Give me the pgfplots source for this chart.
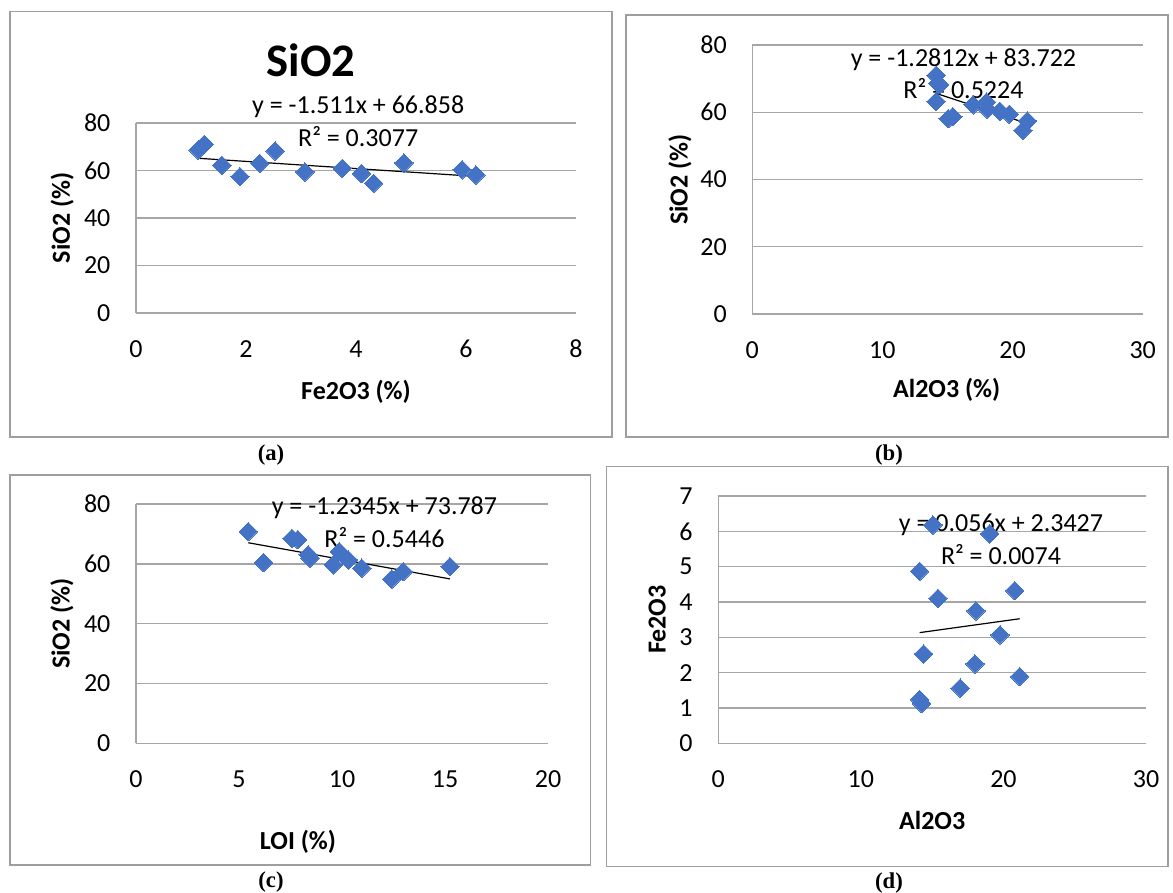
\documentclass[border=0pt]{standalone}
\usepackage{fontspec}
\setmainfont{Carlito}
\newfontfamily\timesfont{Liberation Serif}
\usepackage{pgfplots}
\usepackage{pgfplotstable}
\pgfplotsset{compat=1.18}

\definecolor{xlblue}{HTML}{4472C4}
\definecolor{xlgrid}{HTML}{A6A6A6}
\definecolor{xlbox}{HTML}{9E9E9E}

% one row per sample: Fe2O3, Al2O3, SiO2 (%)
\pgfplotstableread{
fe   al    si
1.13 14.26 68.6
1.24 14.12 71.0
1.56 16.97 62.2
1.89 21.14 57.4
2.25 18.00 63.0
2.53 14.40 68.2
3.07 19.76 59.4
3.75 18.07 60.9
4.10 15.41 58.7
4.32 20.79 54.6
4.87 14.12 63.2
5.93 19.03 60.3
6.18 15.05 58.1
}\maintab

% panel (c): LOI vs SiO2
\pgfplotstableread{
loi   si
5.45  70.8
6.19  60.4
7.57  68.5
7.85  68.1
8.36  63.0
8.45  61.9
9.58  59.7
9.87  64.1
10.31 61.3
10.96 58.6
12.41 54.9
12.97 57.4
15.24 59.1
}\loitab

\pgfplotsset{
  xlchart/.style={
    scale only axis, clip=false,
    axis lines*=left,
    axis line style={xlgrid, line width=1pt, -},
    ymajorgrids, grid style={xlgrid, line width=1pt},
    major tick length=0pt,
    xmin=0, ymin=0,
    /pgf/number format/assume math mode=true,
    tick label style={font=\fontsize{19.5}{23}\selectfont, inner sep=0pt},
    y tick label style={anchor=east, xshift=-19pt},
    x tick label style={anchor=center, yshift=-27pt},
    label style={font=\bfseries\fontsize{19.5}{23}\selectfont},
  },
  xlpts/.style={only marks, color=xlblue, mark=square*, mark size=4.9pt,
    mark options={rotate=45, draw=xlblue, fill=xlblue, line width=0pt}},
  trend/.style={black, line width=0.9pt, mark=none},
}
\newcommand{\eqfont}{\fontsize{19.5}{24.5}\selectfont}

\begin{document}
\begin{tikzpicture}
\useasboundingbox (0,0) rectangle (879.75pt,-669pt);

% chart area frames
\draw[xlbox, line width=1pt] (7.5pt,-8.8pt) rectangle (459pt,-327.75pt);
\draw[xlbox, line width=1pt] (469.5pt,-11.25pt) rectangle (876pt,-327.75pt);
\draw[xlbox, line width=1pt] (7.5pt,-356.25pt) rectangle (443pt,-648.75pt);
\draw[xlbox, line width=1pt] (455pt,-350pt) rectangle (876pt,-650pt);

% (a)
\begin{axis}[xlchart,
  at={(102pt,-234.75pt)}, anchor=south west,
  width=330pt, height=142.5pt,
  xmax=8, ymax=80, xtick={0,2,...,8}, ytick={0,20,...,80},
  title={SiO2},
  title style={at={(axis description cs:0.398,1.29)}, anchor=center,
    font=\bfseries\fontsize{35}{40}\selectfont},
  xlabel={Fe2O3 (\%)}, ylabel={SiO2 (\%)},
  xlabel style={at={(axis description cs:0.5,-0.414)}, anchor=center},
  ylabel style={at={(axis description cs:-0.168,0.5)}, anchor=center},
]
\addplot[xlpts] table[x=fe, y=si] {\maintab};
\addplot[trend] coordinates {(1.13,65.151) (6.18,57.520)};
\node[align=center, font=\eqfont] at (axis description cs:0.505,1.009)
  {y = -1.511x + 66.858\\R² = 0.3077};
\end{axis}

% (b)
\begin{axis}[xlchart,
  at={(564.2pt,-235.5pt)}, anchor=south west,
  width=292.8pt, height=201.75pt,
  xmax=30, ymax=80, xtick={0,10,20,30}, ytick={0,20,...,80},
  xlabel={Al2O3 (\%)}, ylabel={SiO2 (\%)},
  xlabel style={at={(axis description cs:0.498,-0.283)}, anchor=center},
  ylabel style={at={(axis description cs:-0.185,0.5)}, anchor=center},
]
\addplot[xlpts] table[x=al, y=si] {\maintab};
\addplot[trend] coordinates {(14.12,65.631) (21.14,56.637)};
\node[align=center, font=\eqfont] at (axis description cs:0.541,0.893)
  {y = -1.2812x + 83.722\\R² = 0.5224};
\end{axis}

% (c)
\begin{axis}[xlchart,
  at={(102pt,-557.55pt)}, anchor=south west,
  width=309pt, height=179.55pt,
  xmax=20, ymax=80, xtick={0,5,...,20}, ytick={0,20,...,80},
  xlabel={LOI (\%)}, ylabel={SiO2 (\%)},
  xlabel style={at={(axis description cs:0.393,-0.412)}, anchor=center},
  ylabel style={at={(axis description cs:-0.18,0.5)}, anchor=center},
]
\addplot[xlpts] table[x=loi, y=si] {\loitab};
\addplot[trend] coordinates {(5.45,67.059) (15.24,54.973)};
\node[align=center, font=\eqfont] at (axis description cs:0.603,0.923)
  {y = -1.2345x + 73.787\\R² = 0.5446};
\end{axis}

% (d)
\begin{axis}[xlchart,
  at={(538.7pt,-557.5pt)}, anchor=south west,
  width=320.8pt, height=185.5pt,
  xmax=30, ymax=7, xtick={0,10,20,30}, ytick={0,1,...,7},
  xlabel={Al2O3}, ylabel={Fe2O3},
  xlabel style={at={(axis description cs:0.5,-0.31)}, anchor=center},
  ylabel style={at={(axis description cs:-0.143,0.5)}, anchor=center},
]
\addplot[xlpts] table[x=al, y=fe] {\maintab};
\addplot[trend] coordinates {(14.12,3.1334) (21.14,3.5265)};
\node[align=center, font=\eqfont] at (axis description cs:0.661,0.825)
  {y = 0.056x + 2.3427\\R² = 0.0074};
\end{axis}

% sub-figure captions
\begin{scope}[every node/.style={font=\timesfont\bfseries\fontsize{17}{20}\selectfont}]
\node at (203.25pt,-341.25pt) {(a)};
\node at (666.75pt,-341.25pt) {(b)};
\node at (203.25pt,-661.5pt) {(c)};
\node at (666.75pt,-662.25pt) {(d)};
\end{scope}
\end{tikzpicture}
\end{document}
